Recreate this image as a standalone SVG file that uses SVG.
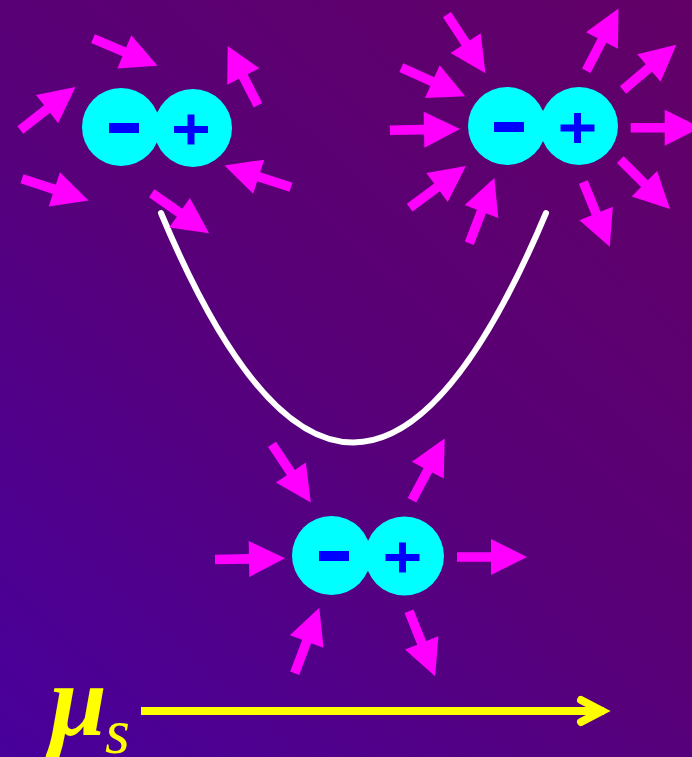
<svg xmlns="http://www.w3.org/2000/svg" xmlns:xlink="http://www.w3.org/1999/xlink" width="692" height="757" viewBox="0 0 692 757">
<defs>
<linearGradient id="bg" x1="692" y1="0" x2="0" y2="757" gradientUnits="userSpaceOnUse">
<stop offset="0" stop-color="#620066"/>
<stop offset="0.5" stop-color="#580078"/>
<stop offset="1" stop-color="#48009c"/>
</linearGradient>
<path id="arr" d="M0,-4.8 H34 V-18 L70,0 L34,18 V4.8 H0 Z"/>
<style>
.ar{fill:#ff00ff}
.at{fill:#00ffff}
.sg{fill:#0000ff}
.curve{fill:none;stroke:#ffffff;stroke-width:6;stroke-linecap:round}
.ax{fill:none;stroke:#ffff00;stroke-width:8}
.lbl{fill:#ffff00;font-family:"Liberation Serif","Times New Roman",serif;font-style:italic}
</style>
</defs>
<rect width="692" height="757" fill="url(#bg)"/>

<g id="connectors">
<path class="curve" d="M161,213 Q353,672 546,213"/>
</g>

<g id="dipole-top-left">
<circle class="at" cx="121" cy="127" r="39"/>
<circle class="at" cx="193" cy="128" r="39"/>
<rect class="sg" x="109" y="123" width="30" height="10"/>
<rect class="sg" x="174" y="126" width="34" height="7"/>
<rect class="sg" x="187.5" y="114.5" width="7" height="30"/>
<g class="ar">
<use xlink:href="#arr" href="#arr" transform="translate(93,38.7) rotate(22.8)"/>
<use xlink:href="#arr" href="#arr" transform="translate(258,105.3) rotate(-117.1) scale(0.95,1)"/>
<use xlink:href="#arr" href="#arr" transform="translate(20.3,130) rotate(-38)"/>
<use xlink:href="#arr" href="#arr" transform="translate(22,178.7) rotate(18.2)"/>
<use xlink:href="#arr" href="#arr" transform="translate(151.7,193.3) rotate(34.9)"/>
<use xlink:href="#arr" href="#arr" transform="translate(291,187.3) rotate(-161.9)"/>
</g>
</g>

<g id="dipole-top-right">
<circle class="at" cx="507" cy="126" r="39"/>
<circle class="at" cx="579" cy="126" r="39"/>
<rect class="sg" x="494" y="122" width="30" height="10"/>
<rect class="sg" x="560.5" y="124.5" width="34" height="7"/>
<rect class="sg" x="574" y="113" width="7" height="30"/>
<g class="ar">
<use xlink:href="#arr" href="#arr" transform="translate(447,14.7) rotate(56.7)"/>
<use xlink:href="#arr" href="#arr" transform="translate(401.3,67.7) rotate(24.1)"/>
<use xlink:href="#arr" href="#arr" transform="translate(390,130.3) rotate(-1.1)"/>
<use xlink:href="#arr" href="#arr" transform="translate(409.7,207.7) rotate(-36.5)"/>
<use xlink:href="#arr" href="#arr" transform="translate(469.3,243.3) rotate(-69)"/>
<use xlink:href="#arr" href="#arr" transform="translate(586.3,70.7) rotate(-62.6)"/>
<use xlink:href="#arr" href="#arr" transform="translate(623,90) rotate(-40.3)"/>
<use xlink:href="#arr" href="#arr" transform="translate(630.7,127.7)"/>
<use xlink:href="#arr" href="#arr" transform="translate(620.3,159.7) rotate(44.8)"/>
<use xlink:href="#arr" href="#arr" transform="translate(583.3,182) rotate(67.8)"/>
</g>
</g>

<g id="dipole-bottom">
<circle class="at" cx="331.5" cy="555.5" r="39.5"/>
<circle class="at" cx="404.5" cy="556" r="39.5"/>
<rect class="sg" x="319" y="551" width="30" height="10"/>
<rect class="sg" x="385.5" y="554" width="34" height="7"/>
<rect class="sg" x="399" y="542.5" width="7" height="30"/>
<g class="ar">
<use xlink:href="#arr" href="#arr" transform="translate(272,444.3) rotate(56.3)"/>
<use xlink:href="#arr" href="#arr" transform="translate(215,559.5) rotate(-1)"/>
<use xlink:href="#arr" href="#arr" transform="translate(294.7,673.3) rotate(-69.4)"/>
<use xlink:href="#arr" href="#arr" transform="translate(412,500.3) rotate(-62.2)"/>
<use xlink:href="#arr" href="#arr" transform="translate(457,557)"/>
<use xlink:href="#arr" href="#arr" transform="translate(409,611.3) rotate(68.1)"/>
</g>
</g>

<g id="mu-axis">
<line class="ax" x1="141" y1="711" x2="604" y2="711"/>
<polyline class="ax" points="581,700 602,711 581,722" stroke-linecap="round" stroke-linejoin="miter"/>
<text class="lbl" x="50" y="735" font-size="102" font-weight="bold">μ</text>
<text class="lbl" x="105" y="753" font-size="64">s</text>
</g>
</svg>
